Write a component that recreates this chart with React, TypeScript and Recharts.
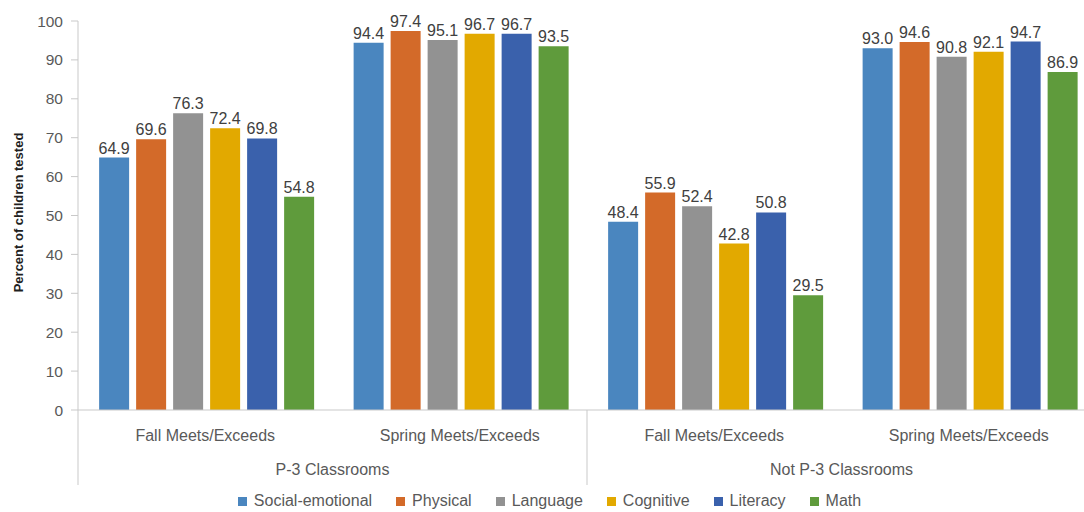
import React from 'react';
import { BarChart, Bar, XAxis, YAxis, Legend, LabelList } from 'recharts';

// Assessment periods (inner axis level) and classroom groups (outer axis level)
const periods = ['Fall Meets/Exceeds', 'Spring Meets/Exceeds', 'Fall Meets/Exceeds', 'Spring Meets/Exceeds'];
const groups = ['P-3 Classrooms', 'P-3 Classrooms', 'Not P-3 Classrooms', 'Not P-3 Classrooms'];

// Percent of children meeting/exceeding expectations, by domain
const socialEmotional = [64.9, 94.4, 48.4, 93.0];
const physical = [69.6, 97.4, 55.9, 94.6];
const language = [76.3, 95.1, 52.4, 90.8];
const cognitive = [72.4, 96.7, 42.8, 92.1];
const literacy = [69.8, 96.7, 50.8, 94.7];
const math = [54.8, 93.5, 29.5, 86.9];

const yTicks = [0, 10, 20, 30, 40, 50, 60, 70, 80, 90, 100];

const series = [
  { key: 'socialEmotional', name: 'Social-emotional', color: '#4A86BF', values: socialEmotional },
  { key: 'physical', name: 'Physical', color: '#D36A29', values: physical },
  { key: 'language', name: 'Language', color: '#929292', values: language },
  { key: 'cognitive', name: 'Cognitive', color: '#E2A900', values: cognitive },
  { key: 'literacy', name: 'Literacy', color: '#3A61AC', values: literacy },
  { key: 'math', name: 'Math', color: '#5F9B3C', values: math },
];

const data = periods.map((period, i) => {
  const row: Record<string, string | number> = { period, group: groups[i] };
  series.forEach((s) => {
    row[s.key] = s.values[i];
  });
  return row;
});

const FONT = '"Liberation Sans", Arial, sans-serif';
const TEXT = '#595959';
const AXIS = '#C9C9C9';

const CHART_W = 1100;
const CHART_H = 512;
const MARGIN = { top: 21, right: 4, bottom: 0, left: 0 };
const Y_AXIS_W = 78;
const PLOT_W = CHART_W - MARGIN.left - MARGIN.right - Y_AXIS_W;

// Two-level category tick: period label, plus group label and group dividers
const PeriodTick = (props: any) => {
  const { x, y, payload, index } = props;
  const half = payload && payload.offset ? payload.offset : PLOT_W / periods.length / 2;
  const isGroupStart = index % 2 === 0;
  const isLast = index === periods.length - 1;
  return (
    <g>
      <text x={x} y={y + 31} textAnchor="middle" fill={TEXT} fontSize={16} fontFamily={FONT}>
        {payload.value}
      </text>
      {isGroupStart && (
        <>
          <line x1={x - half} y1={y} x2={x - half} y2={y + 75} stroke={AXIS} strokeWidth={1} />
          <text x={x + half} y={y + 65} textAnchor="middle" fill={TEXT} fontSize={16} fontFamily={FONT}>
            {groups[index]}
          </text>
        </>
      )}
      {isLast && <line x1={x + half} y1={y} x2={x + half} y2={y + 75} stroke={AXIS} strokeWidth={1} />}
    </g>
  );
};

const renderLegend = () => (
  <div
    style={{
      display: 'flex',
      justifyContent: 'center',
      alignItems: 'center',
      height: 22,
      lineHeight: '22px',
      fontFamily: FONT,
      fontSize: 16,
      color: TEXT,
      gap: 24,
    }}
  >
    {series.map((s) => (
      <div key={s.key} style={{ display: 'flex', alignItems: 'center' }}>
        <span style={{ display: 'inline-block', width: 9, height: 9, background: s.color, marginRight: 7 }} />
        <span>{s.name}</span>
      </div>
    ))}
  </div>
);

const YLabel = (props: any) => {
  const vb = props.viewBox || { x: 0, y: 21, width: 78, height: 389 };
  const cx = 18;
  const cy = vb.y + vb.height / 2 - 3;
  return (
    <text
      x={cx}
      y={cy}
      transform={`rotate(-90, ${cx}, ${cy})`}
      textAnchor="middle"
      dominantBaseline="central"
      fontFamily={FONT}
      fontSize={13}
      fontWeight="bold"
      fill="#1F1F1F"
    >
      Percent of children tested
    </text>
  );
};

export default function App() {
  return (
    <div
      style={{
        position: 'absolute',
        left: 0,
        top: 0,
        width: 1084,
        height: 512,
        overflow: 'hidden',
        background: '#ffffff',
      }}
    >
      <BarChart
        width={CHART_W}
        height={CHART_H}
        data={data}
        margin={MARGIN}
        barCategoryGap="8.3%"
        barGap={7}
      >
        <XAxis
          dataKey="period"
          height={80}
          tickLine={false}
          tickSize={0}
          tickMargin={0}
          axisLine={{ stroke: AXIS, strokeWidth: 1 }}
          tick={<PeriodTick />}
          interval={0}
        />
        <YAxis
          width={Y_AXIS_W}
          domain={[0, 100]}
          ticks={yTicks}
          interval={0}
          tickSize={7}
          tickMargin={8}
          axisLine={{ stroke: AXIS, strokeWidth: 1 }}
          tickLine={{ stroke: AXIS, strokeWidth: 1 }}
          tick={{ fill: TEXT, fontSize: 15.5, fontFamily: FONT }}
          label={<YLabel />}
        />
        <Legend verticalAlign="bottom" wrapperStyle={{ left: 0, width: 1099, bottom: 0 }} content={renderLegend} />
        {series.map((s) => (
          <Bar key={s.key} dataKey={s.key} name={s.name} fill={s.color} isAnimationActive={false}>
            <LabelList
              dataKey={s.key}
              position="top"
              offset={4}
              fill="#404040"
              fontSize={16}
              fontFamily={FONT}
              formatter={(v: any) => Number(v).toFixed(1)}
            />
          </Bar>
        ))}
      </BarChart>
    </div>
  );
}
